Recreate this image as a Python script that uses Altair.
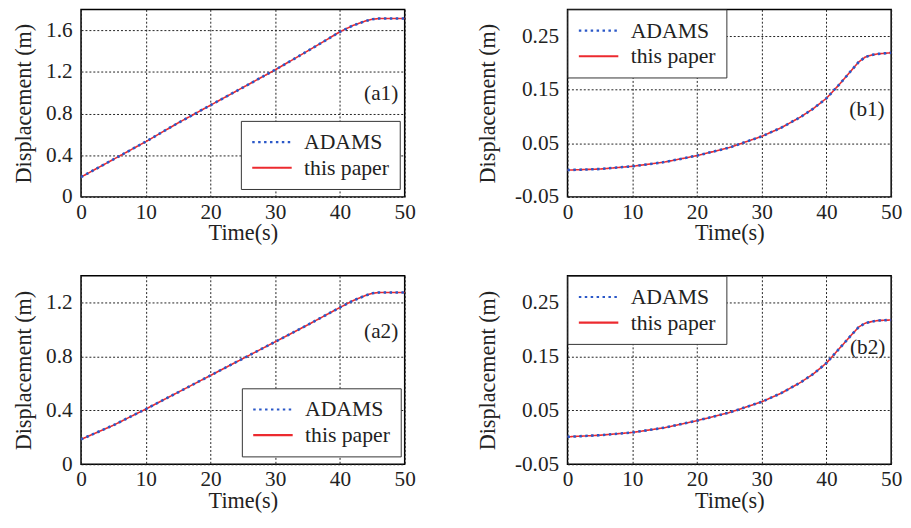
import altair as alt
import pandas as pd

FONT = "Liberation Serif"
TXT = "#222222"

series_names = ["ADAMS", "this paper"]
series_colors = ["#2b58c8", "#ec2a2f"]
series_dash = [[2.5, 3.5], [1, 0]]

x_ticks = [0, 10, 20, 30, 40, 50]

# panel (a1)
time_a1 = [0, 5, 10, 15, 20, 25, 30, 35, 40, 42, 44, 45, 46, 48, 50]
a1_adams = [0.19, 0.36, 0.53, 0.71, 0.88, 1.05, 1.22, 1.40, 1.585, 1.645, 1.69, 1.705, 1.712, 1.713, 1.713]
a1_paper = [0.19, 0.36, 0.53, 0.71, 0.88, 1.05, 1.22, 1.40, 1.585, 1.645, 1.69, 1.705, 1.712, 1.713, 1.713]

# panel (a2)
time_a2 = [0, 5, 10, 15, 20, 25, 30, 35, 40, 42, 44, 45, 46, 48, 50]
a2_adams = [0.185, 0.29, 0.41, 0.535, 0.66, 0.785, 0.91, 1.035, 1.165, 1.215, 1.255, 1.27, 1.276, 1.276, 1.276]
a2_paper = [0.185, 0.29, 0.41, 0.535, 0.66, 0.785, 0.91, 1.035, 1.165, 1.215, 1.255, 1.27, 1.276, 1.276, 1.276]

# panel (b1)
time_b1 = [0, 5, 10, 15, 20, 25, 30, 33, 36, 38, 40, 42, 44, 45, 46, 47, 48, 50]
b1_adams = [0.0, 0.002, 0.007, 0.015, 0.027, 0.042, 0.063, 0.079, 0.099, 0.115, 0.134, 0.160, 0.188, 0.202, 0.211, 0.215, 0.217, 0.219]
b1_paper = [0.0, 0.002, 0.007, 0.015, 0.027, 0.042, 0.063, 0.079, 0.099, 0.115, 0.134, 0.160, 0.188, 0.202, 0.211, 0.215, 0.217, 0.219]

# panel (b2)
time_b2 = [0, 5, 10, 15, 20, 25, 30, 33, 36, 38, 40, 42, 44, 45, 46, 47, 48, 50]
b2_adams = [0.001, 0.004, 0.009, 0.018, 0.031, 0.046, 0.066, 0.082, 0.102, 0.118, 0.138, 0.165, 0.192, 0.205, 0.212, 0.215, 0.217, 0.218]
b2_paper = [0.001, 0.004, 0.009, 0.018, 0.031, 0.046, 0.066, 0.082, 0.102, 0.118, 0.138, 0.165, 0.192, 0.205, 0.212, 0.215, 0.217, 0.218]

# panel tags: text, time, displacement
tag_text = ["(a1)", "(b1)", "(a2)", "(b2)"]
tag_time = [49.0, 49.0, 49.0, 49.1]
tag_disp = [0.99, 0.112, 0.98, 0.166]

a_ticks = [0, 0.4, 0.8, 1.2, 1.6]
b_ticks = [-0.05, 0.05, 0.15, 0.25]


def panel(times, adams, paper, tag_i, y_domain, y_ticks, kind, legend_x, legend_y, width, height):
    n = len(times)
    df = pd.DataFrame({
        "t": list(times) * 2,
        "disp": list(adams) + list(paper),
        "series": ["ADAMS"] * n + ["this paper"] * n,
    })
    if kind == "a":
        lab = "format(datum.value, '.1~f')"
        tpad = 10
    else:
        lab = "datum.value < 0 ? '-' + format(-datum.value, '.2f') : format(datum.value, '.2f')"
        tpad = 15
    x = alt.X("t:Q", scale=alt.Scale(domain=[0, 50], nice=False),
              axis=alt.Axis(values=x_ticks, title="Time(s)", labelFlush=False, format="d"))
    y = alt.Y("disp:Q", scale=alt.Scale(domain=y_domain, nice=False, zero=False),
              axis=alt.Axis(values=y_ticks, title="Displacement (m)", labelExpr=lab, titlePadding=tpad))
    color = alt.Color("series:N",
                      scale=alt.Scale(domain=series_names, range=series_colors),
                      legend=alt.Legend(orient="none", legendX=legend_x, legendY=legend_y, title=None,
                                        fillColor="white", strokeColor="#333333", padding=10,
                                        labelFont=FONT, labelFontSize=22, labelColor=TXT,
                                        symbolType="M-1,0H3", symbolSize=400, symbolStrokeWidth=2.2,
                                        labelOffset=31, rowPadding=3))
    dash = alt.StrokeDash("series:N", scale=alt.Scale(domain=series_names, range=series_dash))
    base = alt.Chart(df)
    red = base.transform_filter(alt.datum.series == "this paper").mark_line(strokeWidth=1.6).encode(
        x=x, y=y, color=color, strokeDash=dash)
    blue = base.transform_filter(alt.datum.series == "ADAMS").mark_line(strokeWidth=2.6).encode(
        x=x, y=y, color=color, strokeDash=dash)
    tag_df = pd.DataFrame({"t": [tag_time[tag_i]], "disp": [tag_disp[tag_i]], "tag": [tag_text[tag_i]]})
    txt = alt.Chart(tag_df).mark_text(align="right", baseline="middle", font=FONT, fontSize=21.5,
                                      color=TXT).encode(x=x, y=y, text="tag:N")
    return alt.layer(red, blue, txt).properties(width=width, height=height)


a1 = panel(time_a1, a1_adams, a1_paper, 0, [0, 1.8], a_ticks, "a", 162, 113, 328, 190)
b1 = panel(time_b1, b1_adams, b1_paper, 1, [-0.05, 0.30], b_ticks, "b", 0, 0, 328, 190)
a2 = panel(time_a2, a2_adams, a2_paper, 2, [0, 1.4], a_ticks, "a", 163, 114, 328, 191)
b2 = panel(time_b2, b2_adams, b2_paper, 3, [-0.05, 0.30], b_ticks, "b", 0, 0, 328, 191)

chart = alt.concat(a1, b1, a2, b2, columns=2, spacing={"row": 29, "column": 60}).resolve_scale(
    color="independent", strokeDash="independent"
).resolve_legend(
    color="independent", strokeDash="independent"
).properties(
    padding={"left": 4, "top": -4, "right": 0, "bottom": 0}
).configure_view(
    stroke="black", strokeWidth=1.5
).configure_axis(
    labelFont=FONT, titleFont=FONT, labelFontSize=21.5, titleFontSize=22.5,
    titleFontWeight="normal", labelColor=TXT, titleColor=TXT,
    grid=True, gridColor="#222222", gridDash=[2, 2], gridWidth=1, gridOpacity=1,
    ticks=False, domain=False, labelPadding=9
).configure_axisX(
    titlePadding=-1, labelPadding=5
).configure_legend(
    labelFont=FONT, labelFontSize=22, labelColor=TXT
)

chart.save("out.html", embed_options={"renderer": "svg", "actions": False})
